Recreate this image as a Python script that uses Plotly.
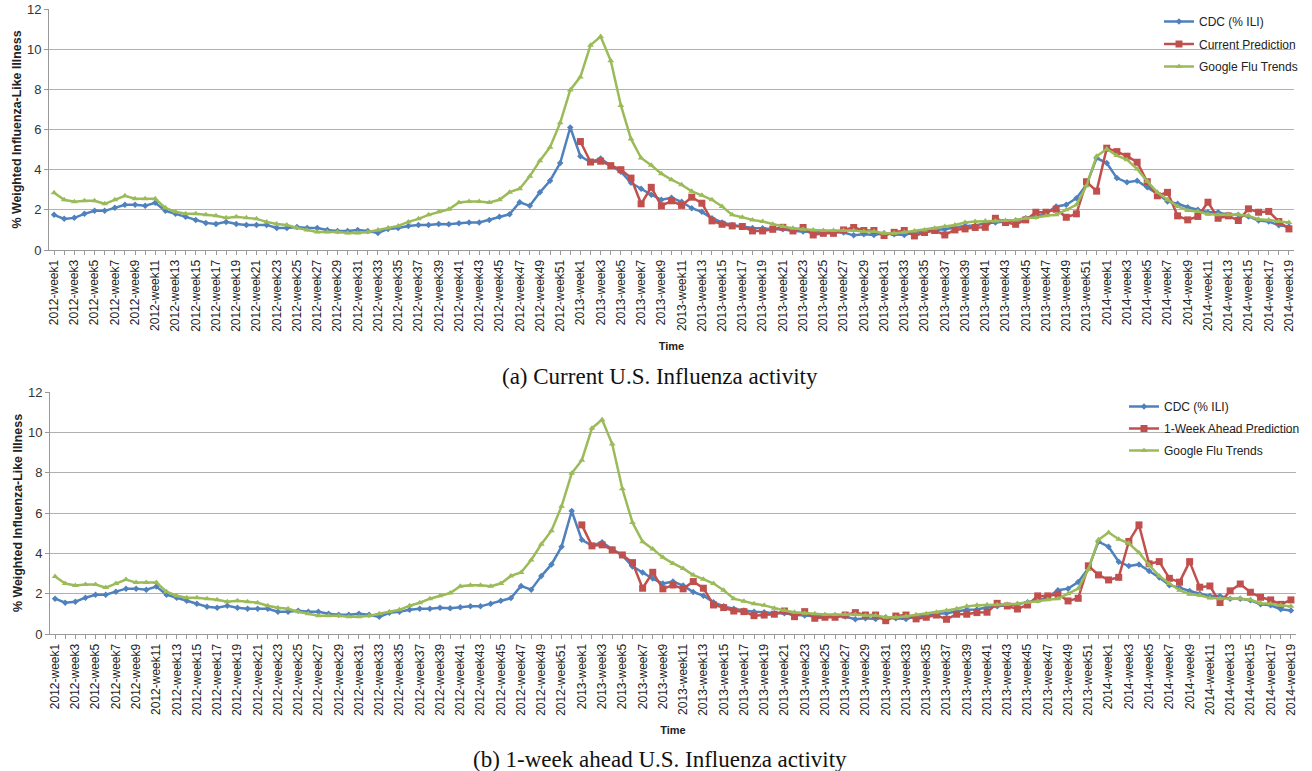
import plotly.graph_objects as go

# ---- categories ----
weeks = ([f"2012-week{w}" for w in range(1, 53)] +
         [f"2013-week{w}" for w in range(1, 53)] +
         [f"2014-week{w}" for w in range(1, 20)])
tick_weeks = [w for w in weeks if int(w.split("week")[1]) % 2 == 1]

# ---- series values ----
cdc = [1.75, 1.55, 1.6, 1.8, 1.95, 1.95, 2.1, 2.25, 2.25, 2.2, 2.35, 1.95, 1.8, 1.65, 1.5, 1.35, 1.3, 1.4, 1.3, 1.25,
       1.25, 1.25, 1.1, 1.1, 1.15, 1.1, 1.1, 1.0, 0.95, 0.95, 1.0, 0.95, 0.85, 1.05, 1.1, 1.2, 1.25, 1.25, 1.3,
       1.28, 1.33, 1.37, 1.37, 1.5, 1.65, 1.78, 2.38, 2.2, 2.87, 3.45, 4.33, 6.1,
       4.67, 4.38, 4.55, 4.2, 3.9, 3.35, 3.05, 2.75, 2.5, 2.6, 2.4, 2.08, 1.9, 1.58, 1.37, 1.25, 1.17, 1.1, 1.08, 1.03,
       1.03, 0.95, 0.92, 0.88, 0.88, 0.88, 0.87, 0.73,
       0.78, 0.75, 0.83, 0.78, 0.75, 0.88, 0.92, 1.0, 1.03, 1.12, 1.2, 1.22, 1.33, 1.37, 1.42, 1.47, 1.58, 1.67, 1.83,
       2.17, 2.25, 2.58, 3.25, 4.58, 4.33, 3.58, 3.37, 3.45, 3.12, 2.8, 2.42, 2.3, 2.13, 2.0, 1.88, 1.88, 1.75, 1.75,
       1.67, 1.47, 1.42, 1.23, 1.17]

gft = [2.85, 2.5, 2.4, 2.45, 2.45, 2.3, 2.5, 2.7, 2.55, 2.55, 2.55, 2.1, 1.9, 1.8, 1.8, 1.75, 1.7, 1.6, 1.65, 1.6,
       1.55, 1.4, 1.3, 1.25, 1.1, 1.0, 0.9, 0.9, 0.9, 0.85, 0.85, 0.9, 1.0, 1.1, 1.2, 1.4, 1.55, 1.75, 1.9,
       2.03, 2.37, 2.42, 2.42, 2.37, 2.5, 2.88, 3.05, 3.67, 4.45, 5.12, 6.33, 7.97,
       8.62, 10.2, 10.63, 9.42, 7.2, 5.53, 4.58, 4.22, 3.8, 3.5, 3.25, 2.92, 2.72, 2.5, 2.17, 1.75, 1.63, 1.5, 1.42,
       1.28, 1.17, 1.08, 1.03, 1.0, 0.97, 0.97, 0.97, 0.97,
       0.92, 0.92, 0.83, 0.83, 0.88, 0.95, 1.0, 1.08, 1.17, 1.25, 1.37, 1.42, 1.45, 1.45, 1.47, 1.5, 1.58, 1.62, 1.7,
       1.75, 2.0, 2.25, 3.2, 4.67, 5.03, 4.7, 4.5, 4.03, 3.42, 2.87, 2.5, 2.17, 1.97, 1.92, 1.78, 1.75, 1.75, 1.75,
       1.7, 1.53, 1.5, 1.42, 1.37]

pred_current = [None] * 52 + [
    5.4, 4.38, 4.42, 4.2, 4.0, 3.58, 2.3, 3.12, 2.2, 2.45, 2.22, 2.63, 2.33, 1.45, 1.28, 1.2, 1.17, 0.95, 0.95, 1.03,
    1.13, 0.95, 1.12, 0.75, 0.83, 0.83, 1.0, 1.12,
    0.97, 0.97, 0.72, 0.88, 0.97, 0.7, 0.87, 0.97, 0.75, 1.0, 1.05, 1.12, 1.13, 1.58, 1.37, 1.28, 1.5, 1.88, 1.88,
    2.03, 1.63, 1.8, 3.4, 2.93, 5.07, 4.9, 4.67, 4.37, 3.4, 2.7, 2.87, 1.7, 1.5, 1.67, 2.38, 1.58, 1.7, 1.47, 2.05,
    1.88, 1.92, 1.42, 1.05]

pred_ahead = [None] * 52 + [
    5.41, 4.37, 4.42, 4.17, 3.92, 3.54, 2.27, 3.06, 2.24, 2.43, 2.24, 2.6, 2.27, 1.44, 1.31, 1.14, 1.11, 0.91, 0.94,
    0.98, 1.14, 0.86, 1.11, 0.78, 0.83, 0.83, 0.94, 1.06,
    0.94, 0.94, 0.66, 0.89, 0.94, 0.75, 0.83, 0.94, 0.73, 0.98, 0.98, 1.06, 1.08, 1.52, 1.39, 1.24, 1.44, 1.89, 1.89,
    1.97, 1.64, 1.77, 3.38, 2.93, 2.68, 2.81, 4.59, 5.41, 3.48, 3.59, 2.76, 2.57, 3.59, 2.32, 2.38, 1.56, 2.14, 2.48,
    2.07, 1.82, 1.69, 1.47, 1.69]

y_ticks = [0, 2, 4, 6, 8, 10, 12]

BLUE = "#4F81BD"
RED = "#C0504D"
GREEN = "#9BBB59"
FONT = "Liberation Sans, Arial, sans-serif"
SERIF = "Liberation Serif, Times New Roman, serif"
W, H = 1312, 771

fig = go.Figure()


def add_panel(xa, ya, legend, pred, pred_name, tag):
    fig.add_trace(go.Scatter(x=weeks, y=cdc, name="CDC (% ILI)", mode="lines+markers",
                             line=dict(color=BLUE, width=2.5),
                             marker=dict(symbol="diamond", size=5, color=BLUE),
                             xaxis=xa, yaxis=ya, legend=legend, legendgroup=tag + "cdc"))
    fig.add_trace(go.Scatter(x=weeks, y=pred, name=pred_name, mode="lines+markers",
                             line=dict(color=RED, width=2.5),
                             marker=dict(symbol="square", size=7, color=RED),
                             xaxis=xa, yaxis=ya, legend=legend, legendgroup=tag + "pred"))
    fig.add_trace(go.Scatter(x=weeks, y=gft, name="Google Flu Trends", mode="lines+markers",
                             line=dict(color=GREEN, width=2.5),
                             marker=dict(symbol="triangle-up", size=6, color=GREEN),
                             xaxis=xa, yaxis=ya, legend=legend, legendgroup=tag + "gft"))


add_panel("x", "y", "legend", pred_current, "Current Prediction", "a")
add_panel("x2", "y2", "legend2", pred_ahead, "1-Week Ahead Prediction", "b")

ticktext = [w if w in tick_weeks else "" for w in weeks]

xcommon = dict(type="category", categoryorder="array", categoryarray=weeks,
               range=[-0.5, len(weeks) - 0.5],
               tickmode="array", tickvals=weeks, ticktext=ticktext, tickangle=-90,
               ticks="outside", ticklen=4, tickcolor="#999999",
               tickfont=dict(family=FONT, size=12, color="#222222"),
               showline=True, linecolor="#999999", linewidth=1, showgrid=False,
               title=dict(text="<b>Time</b>", font=dict(family=FONT, size=11, color="#222222"), standoff=11),
               automargin=False)
ycommon = dict(range=[0, 12], tickvals=y_ticks, ticks="outside", ticklen=4, tickcolor="#999999",
               tickfont=dict(family=FONT, size=13, color="#333333"),
               showline=True, linecolor="#999999", linewidth=1,
               showgrid=True, gridcolor="#b0b0b0", gridwidth=1, zeroline=False,
               title=dict(text="<b>% Weighted Influenza-Like Illness</b>",
                          font=dict(family=FONT, size=12.4, color="#222222"), standoff=2),
               automargin=False)

legend_font = dict(family=FONT, size=12, color="#222222")
fig.update_layout(
    width=W, height=H,
    margin=dict(l=0, r=0, t=0, b=0),
    paper_bgcolor="white", plot_bgcolor="white",
    xaxis=dict(domain=[49 / W, 1294 / W], anchor="y", **xcommon),
    yaxis=dict(domain=[1 - 250 / H, 1 - 9 / H], anchor="x", **ycommon),
    xaxis2=dict(domain=[50 / W, 1296 / W], anchor="y2", **xcommon),
    yaxis2=dict(domain=[1 - 634 / H, 1 - 392 / H], anchor="x2", **ycommon),
    legend=dict(x=1159 / W, y=1 - 7 / H, xanchor="left", yanchor="top",
                bgcolor="rgba(0,0,0,0)", font=legend_font,
                itemwidth=30, tracegroupgap=3.5),
    legend2=dict(x=1124 / W, y=1 - 392 / H, xanchor="left", yanchor="top",
                 bgcolor="rgba(0,0,0,0)", font=legend_font,
                 itemwidth=30, tracegroupgap=3),
    showlegend=True,
    annotations=[
        dict(text="(a) Current U.S. Influenza activity", x=660 / W, y=1 - 376 / H,
             xref="paper", yref="paper", showarrow=False, xanchor="center", yanchor="middle",
             font=dict(family=SERIF, size=23, color="#111111")),
        dict(text="(b) 1-week ahead U.S. Influenza activity", x=660 / W, y=1 - 759 / H,
             xref="paper", yref="paper", showarrow=False, xanchor="center", yanchor="middle",
             font=dict(family=SERIF, size=23, color="#111111")),
    ],
)

fig.write_html("out.html", config={"displayModeBar": False},
               post_script="document.body.style.margin='0';document.body.style.overflow='hidden';")
